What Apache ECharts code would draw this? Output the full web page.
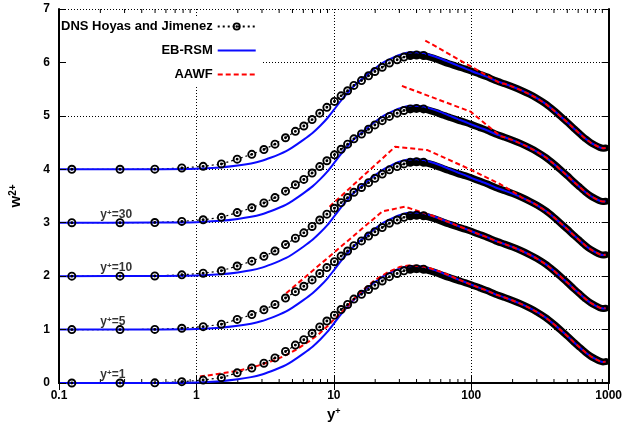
<!DOCTYPE html>
<html><head><meta charset="utf-8">
<script src="https://cdn.jsdelivr.net/npm/echarts@6/dist/echarts.min.js"></script>
<style>html,body{margin:0;padding:0;background:#fff}#c{width:625px;height:427px}</style>
</head><body><div id="c"></div>
<script>
// ---- data ----
const offsets = [0, 1, 2, 3, 4];
// DNS Hoyas & Jimenez w'^2+ profile (unshifted)
const dnsYp = [0.124, 0.278, 0.498, 0.783, 1.12, 1.52, 1.98, 2.53, 3.10, 3.73, 4.45, 5.25, 6.05, 6.95, 7.9, 8.9, 10.1, 11.3, 12.6, 14.0, 15.9, 17.9, 19.9, 22.5, 25.4, 28.9, 32.4, 36, 40, 45, 50, 56, 63, 70, 80, 90, 100, 115, 130, 150, 175, 200, 230, 265, 300, 350, 400, 450, 500, 560, 620, 680, 740, 800, 860, 910, 950];
const dnsW  = [0.0, 0.0, 0.003, 0.025, 0.055, 0.10, 0.19, 0.28, 0.37, 0.47, 0.59, 0.71, 0.81, 0.93, 1.05, 1.16, 1.27, 1.375, 1.47, 1.57, 1.66, 1.75, 1.83, 1.91, 1.99, 2.05, 2.10, 2.13, 2.14, 2.13, 2.10, 2.06, 2.01, 1.97, 1.92, 1.88, 1.84, 1.78, 1.73, 1.66, 1.60, 1.545, 1.48, 1.405, 1.33, 1.22, 1.10, 0.985, 0.88, 0.76, 0.66, 0.57, 0.50, 0.45, 0.41, 0.395, 0.40];
// EB-RSM (unshifted)
const ebYp = [0.1, 0.5, 1, 1.5, 2, 2.5, 3, 3.5, 4, 4.5, 5, 6, 7, 8, 9, 10, 11, 12, 13, 14, 16, 18, 20, 23, 26, 30, 34, 38, 43, 50, 60, 70, 80, 90, 100, 115, 130, 150, 175, 200, 230, 265, 300, 350, 400, 450, 500, 560, 620, 680, 740, 800, 860, 910, 950];
const ebW  = [0, 0.002, 0.01, 0.035, 0.07, 0.11, 0.16, 0.22, 0.28, 0.34, 0.41, 0.55, 0.68, 0.82, 0.96, 1.11, 1.25, 1.37, 1.47, 1.56, 1.69, 1.80, 1.89, 2.00, 2.07, 2.14, 2.18, 2.19, 2.18, 2.14, 2.07, 2.00, 1.94, 1.89, 1.84, 1.78, 1.73, 1.66, 1.60, 1.545, 1.48, 1.405, 1.33, 1.22, 1.10, 0.985, 0.88, 0.76, 0.66, 0.57, 0.50, 0.45, 0.41, 0.395, 0.40];
// AAWF near-wall parts (unshifted); outer part coincides with EB-RSM
const aawf1Yp  = [1.06, 1.43, 1.99, 2.62, 3.46, 4.31, 5.37, 6.69, 7.9, 9.3, 10.1, 12, 15, 20, 25, 30, 35, 42, 50, 60, 70];
const aawf1W   = [0.12, 0.17, 0.225, 0.30, 0.40, 0.50, 0.63, 0.79, 0.93, 1.10, 1.20, 1.38, 1.66, 1.93, 2.08, 2.17, 2.20, 2.19, 2.15, 2.08, 2.01];
const aawf5Yp  = [4.5, 22.5, 32.8, 51, 70];
const aawf5W   = [0.68, 2.21, 2.30, 2.14, 2.00];
const aawf10Yp = [9.3, 27.9, 48, 94, 163, 220];
const aawf10W  = [1.30, 2.42, 2.36, 2.02, 1.72, 1.52];
const aawf30Yp = [31.3, 98.7, 163];
const aawf30W  = [2.56, 2.08, 1.62];
const aawf50Yp = [46.3, 163];
const aawf50W  = [2.41, 1.61];
const aawfCases = [[aawf1Yp, aawf1W], [aawf5Yp, aawf5W], [aawf10Yp, aawf10W], [aawf30Yp, aawf30W], [aawf50Yp, aawf50W]];
// annotations
const annoText = ['1', '5', '10', '30'];
const annoOffset = [0, 1, 2, 3];
// axes
const xTickLabels = ['0.1', '1', '10', '100', '1000'];
const minorMant = [2, 3, 4, 5, 6, 7, 8, 9];
const minorDecades = [0.1, 1, 10, 100];

// ---- chart ----
const FONT = 'Liberation Sans';
const RING = 'path://M0,-5A5,5 0 1,1 0,5A5,5 0 1,1 0,-5Z M0,-2.9A2.9,2.9 0 1,0 0,2.9A2.9,2.9 0 1,0 0,-2.9Z M0,-1.6A1.6,1.6 0 1,1 0,1.6A1.6,1.6 0 1,1 0,-1.6Z';
const chart = echarts.init(document.getElementById('c'), null, {renderer: 'canvas'});
const series = [];

// DNS dense band
offsets.forEach(off => {
  series.push({
    name: 'DNS band', type: 'line', silent: true, symbol: 'none', smooth: 0.2,
    data: dnsYp.map((x, i) => [x, dnsW[i] + off]).filter(p => p[0] >= 36),
    lineStyle: {color: '#000', width: 7, cap: 'round'}
  });
});
// DNS points
offsets.forEach(off => {
  series.push({
    name: 'DNS Hoyas and Jimenez', type: 'line', silent: true,
    data: dnsYp.map((x, i) => [x, dnsW[i] + off]).filter(p => p[0] <= 45),
    symbol: RING, symbolSize: 9, showAllSymbol: true,
    itemStyle: {color: '#000', borderWidth: 0},
    lineStyle: {color: '#000', width: 1.2, type: [2, 3]}
  });
});
// EB-RSM
offsets.forEach(off => {
  series.push({
    name: 'EB-RSM', type: 'line', silent: true, symbol: 'none', smooth: 0.2,
    data: ebYp.map((x, i) => [x, ebW[i] + off]),
    itemStyle: {color: '#0b0bff'},
    lineStyle: {color: '#0b0bff', width: 2}
  });
});
// AAWF
offsets.forEach((off, k) => {
  const [yp, w] = aawfCases[k];
  const last = yp[yp.length - 1];
  const pts = yp.map((x, i) => [x, w[i] + off]);
  ebYp.forEach((x, i) => { if (x > last) pts.push([x, ebW[i] + off]); });
  series.push({
    name: 'AAWF', type: 'line', silent: true, symbol: 'none',
    data: pts,
    itemStyle: {color: '#ff0000'},
    lineStyle: {color: '#ff0000', width: 2, type: [5, 3]}
  });
});
// annotations
series.push({
  name: 'labels', type: 'scatter', silent: true, symbolSize: 0,
  data: annoText.map((t, i) => [0.2, annoOffset[i] + 0.15]),
  label: {
    show: true, position: 'right', distance: 0,
    formatter: p => '{a|y}{b|+}{a|=' + annoText[p.dataIndex] + '}',
    rich: {
      a: {fontFamily: FONT, fontWeight: 'bold', fontSize: 12, color: '#000'},
      b: {fontFamily: FONT, fontWeight: 'bold', fontSize: 8, color: '#000', verticalAlign: 'top'}
    }
  }
});
// minor log ticks
const minorTicks = [];
minorDecades.forEach(d => minorMant.forEach(m => minorTicks.push([m * d, 0])));
series.push({
  name: 'minor', type: 'custom', silent: true, data: minorTicks,
  encode: {x: 0, y: 1},
  renderItem: (params, api) => {
    const x = api.value(0);
    const b = api.coord([x, 0]);
    const t = api.coord([x, 7]);
    return {type: 'group', children: [
      {type: 'line', shape: {x1: b[0], y1: b[1], x2: b[0], y2: b[1] - 4}, style: {stroke: '#000', lineWidth: 1}},
      {type: 'line', shape: {x1: t[0], y1: t[1], x2: t[0], y2: t[1] + 4}, style: {stroke: '#000', lineWidth: 1}}
    ]};
  }
});

const axisLineStyle = {show: true, lineStyle: {color: '#000', width: 2}};
const labelStyle = {fontFamily: FONT, fontWeight: 'bold', fontSize: 12, color: '#000'};
const gridLine = {show: true, lineStyle: {color: '#000', width: 1, type: [1, 2]}};

chart.setOption({
  animation: false,
  backgroundColor: '#fff',
  grid: {left: 52, right: 14, top: 9, bottom: 44},
  legend: {
    data: [
      {name: 'DNS Hoyas and Jimenez'},
      {name: 'EB-RSM', itemStyle: {opacity: 0}},
      {name: 'AAWF', itemStyle: {opacity: 0}}
    ],
    orient: 'vertical', align: 'right', left: 60, top: 16,
    itemWidth: 38, itemHeight: 10, itemGap: 11,
    padding: [4, 5, 5, 1], backgroundColor: '#fff',
    selectedMode: false,
    textStyle: {fontFamily: FONT, fontWeight: 'bold', fontSize: 13, color: '#000'}
  },
  xAxis: [{
    type: 'log', logBase: 10, min: 0.1, max: 1000, position: 'bottom',
    axisLine: axisLineStyle,
    axisTick: {show: true, inside: true, length: 7, lineStyle: {color: '#000', width: 1}},
    axisLabel: Object.assign({margin: 7, formatter: v => xTickLabels[Math.round(Math.log10(v)) + 1]}, labelStyle),
    splitLine: gridLine,
    name: '{a|y}{b|+}', nameLocation: 'middle', nameGap: 20,
    nameTextStyle: {rich: {
      a: {fontFamily: FONT, fontWeight: 'bold', fontSize: 15, color: '#000'},
      b: {fontFamily: FONT, fontWeight: 'bold', fontSize: 9, color: '#000', verticalAlign: 'top'}
    }}
  }, {
    type: 'log', logBase: 10, min: 0.1, max: 1000, position: 'top',
    axisLine: axisLineStyle,
    axisTick: {show: true, inside: true, length: 7, lineStyle: {color: '#000', width: 1}},
    axisLabel: {show: false}, splitLine: {show: false}
  }],
  yAxis: [{
    type: 'value', min: 0, max: 7, interval: 1, position: 'left', z: 6,
    axisLine: axisLineStyle,
    axisTick: {show: true, inside: true, length: 7, lineStyle: {color: '#000', width: 1}},
    axisLabel: Object.assign({margin: 9}, labelStyle),
    splitLine: {show: false},
    name: '{a|w}{b|2+}', nameLocation: 'middle', nameRotate: 90, nameGap: 36,
    nameTextStyle: {rich: {
      a: {fontFamily: FONT, fontWeight: 'bold', fontSize: 15, color: '#000'},
      b: {fontFamily: FONT, fontWeight: 'bold', fontSize: 10, color: '#000', verticalAlign: 'top'}
    }}
  }, {
    type: 'value', min: 0, max: 7, interval: 1, position: 'right',
    axisLine: axisLineStyle,
    axisTick: {show: true, inside: true, length: 7, lineStyle: {color: '#000', width: 1}},
    axisLabel: {show: false}, splitLine: gridLine
  }],
  series: series
});
</script>
</body></html>
